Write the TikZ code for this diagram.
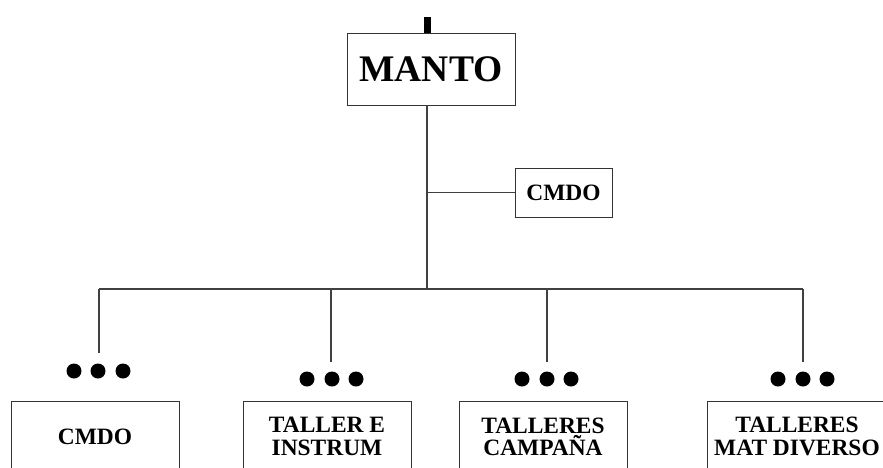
\documentclass[tikz,border=0pt]{standalone}
\usepackage{fontspec}
\setmainfont{Liberation Serif}
\tikzset{
  box/.style={draw=black!80, line width=0.8pt, fill=white, rectangle, align=center, inner sep=0pt,
    font=\bfseries\fontsize{20}{19}\selectfont},
  link/.style={draw=black!75, line width=0.9pt},
  dot/.style={fill=black, circle, inner sep=0pt, minimum size=15*0.03cm}
}
\begin{document}
\begin{tikzpicture}[x=0.03cm,y=-0.03cm]
\useasboundingbox (0,0) rectangle (883,467);
\clip (0,0) rectangle (883,467);

\node[box, minimum width=168*0.03cm, minimum height=72*0.03cm, font=\bfseries\fontsize{32}{36}\selectfont] (manto) at (431,69) {MANTO};
\node[box, minimum width=97*0.03cm, minimum height=49*0.03cm] (cmdo) at (563.5,192.5) {CMDO};

\node[box, minimum width=168*0.03cm, minimum height=71*0.03cm] (cmdob) at (95,436.5) {CMDO};
\node[box, minimum width=168*0.03cm, minimum height=71*0.03cm] (taller) at (327,436.5) {TALLER E\\INSTRUM};
\node[box, minimum width=168*0.03cm, minimum height=71*0.03cm] (campana) at (543,436.5) {TALLERES\\CAMPAÑA};
\node[box, minimum width=180*0.03cm, minimum height=71*0.03cm] (diverso) at (797,436.5) {TALLERES\\MAT DIVERSO};

\coordinate (top) at (427.5,17);
\coordinate (trunk) at (427,289);
\coordinate (busl) at (99,289);
\coordinate (busr) at (803,289);
\coordinate (d1) at (99,353);
\coordinate (d2) at (331,362);
\coordinate (d3) at (547,362);
\coordinate (d4) at (803,362);

% tab above MANTO
\path[draw,line width=6pt] (top) -- (top |- manto.north);

% trunk and branch
\path[link] (trunk |- manto.south) -- (trunk);
\path[link] (cmdo.west) -- (cmdo.west -| trunk);

% bus and drops
\path[link] (busl) -- (busr);
\path[link] (d1 |- busl) -- (d1);
\path[link] (d2 |- busl) -- (d2);
\path[link] (d3 |- busl) -- (d3);
\path[link] (d4 |- busl) -- (d4);

\foreach \x/\y [count=\i] in {74/371, 98/371, 123/371, 307/379, 332/379, 356/379,
    522/379, 547/379, 571/379, 778/379, 803/379, 827/379}
  \node[dot] (dot\i) at (\x,\y) {};
\end{tikzpicture}
\end{document}
